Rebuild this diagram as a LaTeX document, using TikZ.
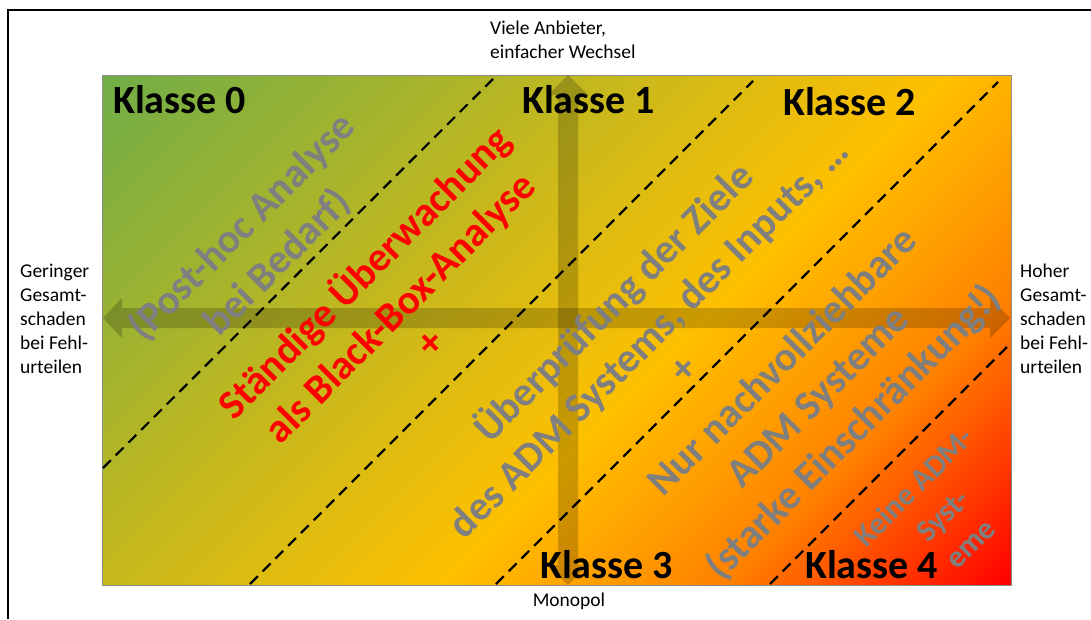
\documentclass[tikz,border=0pt]{standalone}
\usepackage{fontspec}
\setmainfont{Carlito}
\definecolor{cg}{RGB}{112,173,71}
\definecolor{cy}{RGB}{255,192,0}
\definecolor{co}{RGB}{255,128,0}
\definecolor{cr}{RGB}{255,0,0}
\definecolor{txtgray}{RGB}{127,127,127}
\pgfdeclarehorizontalshading{bgshade}{100bp}{color(0bp)=(cg); color(25bp)=(cg); color(55bp)=(cy); color(65bp)=(co); color(75bp)=(cr); color(100bp)=(cr)}
\begin{document}
\begin{tikzpicture}[x=1pt,y=-1pt,
  big/.style={font=\bfseries\fontsize{41}{50}\selectfont, inner sep=0pt, align=center},
  klasse/.style={font=\bfseries\fontsize{40}{48}\selectfont, inner sep=0pt, anchor=base west},
  side/.style={font=\fontsize{19.5}{24}\selectfont, inner sep=0pt, align=left},
  divider/.style={dash pattern=on 11pt off 7pt, line width=2.2pt, black},
  axisarrow/.style={fill=black, fill opacity=0.2, draw=none}]
\useasboundingbox (0,0) rectangle (1091,619);
\fill[white] (0,0) rectangle (1091,619);
% outer frame (partly visible)
\draw[line width=2pt] (8,619) -- (8,10) -- (1091,10);
% background
\coordinate (tl) at (102,75);
\coordinate (br) at (1011,585);
\begin{scope}
  \clip (tl) rectangle (br);
  \path[shading=bgshade, shading angle=-45] (54.8,-171.7) rectangle (1058.2,831.7);
\end{scope}
\draw[black!45, line width=1pt] (tl) rectangle (br);
% axis arrows
\path[axisarrow] (103,318) -- (122,298) -- (122,308) -- (990,308) -- (990,298) -- (1010,318) -- (990,338) -- (990,328) -- (122,328) -- (122,338) -- cycle;
\path[axisarrow] (568,75) -- (588,95) -- (578,95) -- (578,565) -- (588,565) -- (568,585) -- (548,565) -- (558,565) -- (558,95) -- (548,95) -- cycle;
% dashed class dividers
\coordinate (d1a) at (103,468); \coordinate (d1b) at (496,76);
\coordinate (d2a) at (250,584); \coordinate (d2b) at (753,81);
\coordinate (d3a) at (496,584); \coordinate (d3b) at (998,82);
\coordinate (d4a) at (770,584); \coordinate (d4b) at (1010,344);
\draw[divider] (d1a) -- (d1b);
\draw[divider] (d2a) -- (d2b);
\draw[divider] (d3a) -- (d3b);
\draw[divider] (d4a) -- (d4b);
% rotated texts
\node[big, txtgray, rotate=45] (posthoc) at (260,245) {(Post-hoc Analyse\\bei Bedarf)};
\node[big, red, rotate=45] (bbox) at (382,290) {Ständige Überwachung\\als Black-Box-Analyse};
\node[big, red, rotate=45] (plusA) at (432,344) {+};
\node[big, txtgray, rotate=45] (ziele) at (631,320) {Überprüfung der Ziele\\des ADM Systems, des Inputs, …};
\node[big, txtgray, rotate=45] (plusB) at (685,370) {+};
\node[big, txtgray, rotate=45] (nur) at (819,398) {Nur nachvollziehbare\\ADM Systeme\\(starke Einschränkung!)};
\node[font=\bfseries\fontsize{31}{40}\selectfont, txtgray, rotate=45, align=center, inner sep=0pt] (keine) at (942,515) {Keine ADM-\\Syst-\\eme};
% class labels
\node[klasse] (k0) at (113,113) {Klasse 0};
\node[klasse] (k1) at (522,113) {Klasse 1};
\node[klasse] (k2) at (783,115) {Klasse 2};
\node[klasse] (k3) at (540,578) {Klasse 3};
\node[klasse] (k4) at (805,578) {Klasse 4};
% side labels
\node[side, anchor=west] (leftlbl) at (20,319) {Geringer\\Gesamt-\\schaden\\bei Fehl-\\urteilen};
\node[side, anchor=west] (rightlbl) at (1020,319) {Hoher\\Gesamt-\\schaden\\bei Fehl-\\urteilen};
\node[side, anchor=west] (toplbl) at (490,40) {Viele Anbieter,\\einfacher Wechsel};
\node[side, anchor=center] (botlbl) at (569,601) {Monopol};
\end{tikzpicture}
\end{document}
